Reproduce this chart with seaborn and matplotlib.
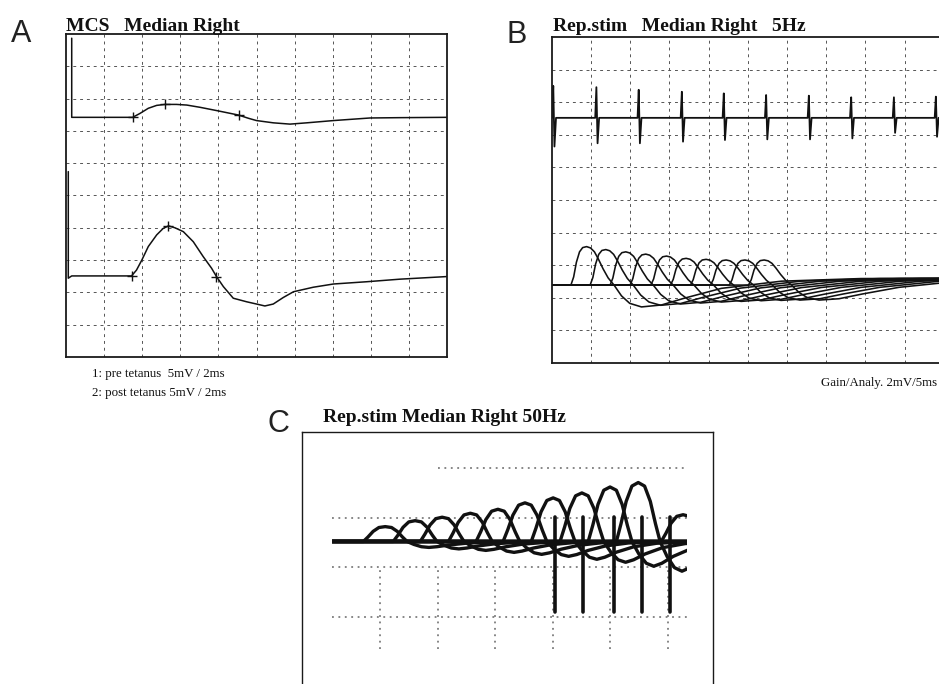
import numpy as np
import pandas as pd
import matplotlib
matplotlib.use("Agg")
import matplotlib.pyplot as plt
import seaborn as sns
from matplotlib.patches import Rectangle

# ---------------- panel A: MCS traces (screen divisions, 10 x 10 grid)
pre_x = [0.15, 0.15, 1.75, 1.94, 2.16, 2.38, 2.60, 2.90, 3.17, 3.52, 3.95, 4.53, 4.79,
         5.00, 5.44, 5.88, 6.32, 7.02, 7.98, 8.77, 9.99]
pre_y = [9.87, 7.42, 7.42, 7.54, 7.70, 7.79, 7.82, 7.82, 7.80, 7.73, 7.63, 7.49, 7.39,
         7.32, 7.25, 7.21, 7.25, 7.32, 7.40, 7.41, 7.42]
pre_marks_x = [1.75, 2.60, 4.53]
pre_marks_y = [7.42, 7.82, 7.49]

post_x = [0.06, 0.06, 0.15, 1.72, 1.85, 1.99, 2.16, 2.38, 2.55, 2.69, 2.86, 3.08, 3.34,
          3.60, 3.82, 3.95, 4.13, 4.39, 4.74, 5.00, 5.22, 5.44, 5.70, 5.97, 6.49, 7.02,
          7.89, 8.77, 9.99]
post_y = [5.74, 2.44, 2.51, 2.51, 2.69, 3.00, 3.42, 3.78, 3.98, 4.06, 4.00, 3.88, 3.57,
          3.11, 2.75, 2.49, 2.18, 1.82, 1.71, 1.64, 1.58, 1.64, 1.84, 2.02, 2.16, 2.26,
          2.33, 2.41, 2.49]
post_marks_x = [1.72, 2.69, 3.95]
post_marks_y = [2.51, 4.06, 2.49]

# ---------------- panel B: repetitive stimulation 5 Hz
b_top_base = 7.52
b_spike_x = [0.04, 1.14, 2.22, 3.32, 4.39, 5.47, 6.56, 7.64, 8.73, 9.80]
b_spike_top = [8.50, 8.46, 8.38, 8.32, 8.27, 8.22, 8.20, 8.15, 8.15, 8.17]
b_spike_bot = [6.64, 6.74, 6.74, 6.79, 6.84, 6.86, 6.86, 6.89, 7.06, 6.94]

b_low_base = 2.39
b_peak_x = [0.89, 1.38, 1.89, 2.40, 2.93, 3.43, 3.94, 4.45, 4.93, 5.42]
b_peak_amp = [1.18, 1.09, 1.02, 0.95, 0.89, 0.82, 0.79, 0.77, 0.77, 0.77]
b_trough = [0.67, 0.62, 0.58, 0.55, 0.52, 0.50, 0.48, 0.47, 0.46, 0.46]
# first response, offsets from its peak
b_shape_dx = [-0.40, -0.33, -0.26, -0.18, -0.10, 0.0, 0.10, 0.20, 0.30, 0.42, 0.55, 0.70,
              0.89, 1.10, 1.40, 1.91, 2.50, 3.44, 4.97, 7.00, 10.0]
b_shape_dy = [0.0, 0.25, 0.70, 1.02, 1.15, 1.18, 1.14, 1.02, 0.80, 0.50, 0.22, 0.0,
              -0.33, -0.56, -0.67, -0.61, -0.40, -0.10, 0.12, 0.20, 0.21]

# ---------------- panel C: repetitive stimulation 50 Hz
c_base = 1.52
c_peak_x = [1.09, 1.61, 2.08, 2.57, 3.05, 3.52, 4.01, 4.51, 5.00, 5.49, 6.27]
c_peak_amp = [0.30, 0.42, 0.49, 0.57, 0.65, 0.78, 0.88, 0.98, 1.10, 1.19, 0.54]
c_trough = [0.12, 0.15, 0.18, 0.22, 0.26, 0.30, 0.36, 0.42, 0.50, 0.60, 0.70]
c_shape_dx = [-0.38, -0.30, -0.21, -0.11, 0.0, 0.11, 0.21, 0.30, 0.38, 0.50, 0.63, 0.76,
              0.90, 1.10, 1.40, 1.80, 2.50]
c_shape = [0.0, 0.30, 0.68, 0.94, 1.0, 0.94, 0.68, 0.30, 0.0, -0.5, -0.88, -1.0,
           -0.88, -0.6, -0.3, -0.1, 0.0]
c_trace_x0, c_trace_x1 = 0.17, 6.34
c_stim_x = [4.04, 4.53, 5.06, 5.55, 6.05]
c_stim_top, c_stim_bot = 2.02, 0.10

sns.set_style("white")
plt.rcParams['font.family'] = ['Liberation Serif', 'DejaVu Serif']

fig = plt.figure(figsize=(9.39, 6.84), dpi=100)
W, H = 939, 684


def px_axes(left, top, right, bottom):
    return fig.add_axes([left / W, 1 - bottom / H, (right - left) / W, (bottom - top) / H])


def scope_grid(ax):
    for v in range(1, 10):
        ax.axvline(v, ls=(0, (3, 4)), lw=0.7, color='#555555', zorder=0)
        ax.axhline(v, ls=(0, (3, 4)), lw=0.7, color='#555555', zorder=0)


def clean(ax, spines):
    ax.set_xticks([])
    ax.set_yticks([])
    ax.set_xlabel("")
    ax.set_ylabel("")
    for name, sp in ax.spines.items():
        sp.set_visible(name in spines)
        sp.set_color('#1a1a1a')
        sp.set_linewidth(1.3)


# ---- A
axA = px_axes(66, 34, 447, 357)
axA.set_xlim(0, 10)
axA.set_ylim(0, 10)
scope_grid(axA)
sns.lineplot(x=pre_x, y=pre_y, sort=False, estimator=None, color='#111111', lw=1.1, ax=axA)
sns.lineplot(x=post_x, y=post_y, sort=False, estimator=None, color='#111111', lw=1.1, ax=axA)
axA.plot(pre_marks_x, pre_marks_y, ls='none', marker='+', ms=7, mew=1, color='#111111')
axA.plot(post_marks_x, post_marks_y, ls='none', marker='+', ms=7, mew=1, color='#111111')
clean(axA, ['left', 'right', 'top', 'bottom'])

# ---- B
axB = px_axes(551.7, 37, 943.7, 363)
axB.set_xlim(0, 10)
axB.set_ylim(0, 10)
scope_grid(axB)

tx, ty = [0.0], [b_top_base]
for sx, st, sb in zip(b_spike_x, b_spike_top, b_spike_bot):
    tx += [sx - 0.03, sx, sx + 0.03, sx + 0.07]
    ty += [b_top_base, st, sb, b_top_base]
tx.append(10.0)
ty.append(b_top_base)
sns.lineplot(x=tx, y=ty, sort=False, estimator=None, color='#111111', lw=1.3, ax=axB)

dx = np.array(b_shape_dx)
dy = np.array(b_shape_dy)
rows = []
for i, (px_, amp, tr) in enumerate(zip(b_peak_x, b_peak_amp, b_trough)):
    lobe = dx < 0.7
    scale = np.where(lobe, amp / dy.max(), np.where(dy < 0, tr / -dy.min(), 1.0))
    xs = np.concatenate([[0.0], px_ + dx])
    ys = np.concatenate([[b_low_base], b_low_base + dy * scale])
    rows.append(pd.DataFrame({'x': xs, 'y': ys, 'sweep': i}))
dfB = pd.concat(rows)
sns.lineplot(data=dfB, x='x', y='y', units='sweep', estimator=None, sort=False,
             color='#111111', lw=1.15, legend=False, ax=axB)
clean(axB, ['left', 'top', 'bottom', 'right'])

# ---- C
axC = px_axes(302, 432, 713, 700)
axC.set_xlim(-0.357, 6.79)
axC.set_ylim(-1.68, 3.73)
grid_kw = dict(ls=(0, (1.2, 3)), lw=1.1, color='#666666', zorder=0)
axC.plot([2.0, 6.35], [3, 3], **grid_kw)
for gy in [2, 1, 0]:
    axC.plot([c_trace_x0, 6.35], [gy, gy], **grid_kw)
for gx in [1, 2, 3, 4, 5, 6]:
    axC.plot([gx, gx], [-0.65, 1.0], **grid_kw)

cdx = np.array(c_shape_dx)
cs = np.array(c_shape)
rows = []
for i, (px_, amp, tr) in enumerate(zip(c_peak_x, c_peak_amp, c_trough)):
    ys = np.where(cs > 0, cs * amp, cs * tr)
    xs = np.concatenate([[c_trace_x0], px_ + cdx, [c_trace_x1 + 0.5]])
    ys = np.concatenate([[c_base], c_base + ys, [c_base]])
    rows.append(pd.DataFrame({'x': xs, 'y': ys, 'sweep': i}))
dfC = pd.concat(rows)
sns.lineplot(data=dfC, x='x', y='y', units='sweep', estimator=None, sort=False,
             color='#111111', lw=2.4, legend=False, ax=axC)
for sx in c_stim_x:
    axC.plot([sx, sx], [c_stim_bot, c_stim_top], color='#111111', lw=2.6)
clip = Rectangle((c_trace_x0, -1.68), c_trace_x1 - c_trace_x0, 5.4, transform=axC.transData)
for ln in axC.lines:
    ln.set_clip_path(clip)
clean(axC, ['left', 'top', 'right', 'bottom'])
axC.spines['left'].set_linewidth(1.0)
axC.spines['top'].set_linewidth(1.0)
axC.spines['right'].set_linewidth(1.0)

# ---- texts
title_kw = dict(fontsize=14, fontweight='bold', color='#111111', va='baseline', ha='left')
fig.text(66 / W, 1 - 30.7 / H, "MCS   Median Right", **title_kw)
fig.text(553.3 / W, 1 - 30.7 / H, "Rep.stim   Median Right   5Hz", **title_kw)
fig.text(323 / W, 1 - 421.7 / H, "Rep.stim Median Right 50Hz", **title_kw)

note_kw = dict(fontsize=9.3, color='#111111', va='baseline')
fig.text(92 / W, 1 - 377 / H, "1: pre tetanus  5mV / 2ms", ha='left', **note_kw)
fig.text(92 / W, 1 - 396 / H, "2: post tetanus 5mV / 2ms", ha='left', **note_kw)
fig.text(937 / W, 1 - 386 / H, "Gain/Analy. 2mV/5ms", ha='right', **note_kw)

lab_kw = dict(fontsize=22, family=['Liberation Sans', 'DejaVu Sans'], color='#222222',
              ha='center', va='center')
fig.text(21 / W, 1 - 34 / H, "A", **lab_kw)
fig.text(517 / W, 1 - 35 / H, "B", **lab_kw)
fig.text(278 / W, 1 - 424 / H, "C", **lab_kw)

fig.savefig("out.png", dpi=100)
